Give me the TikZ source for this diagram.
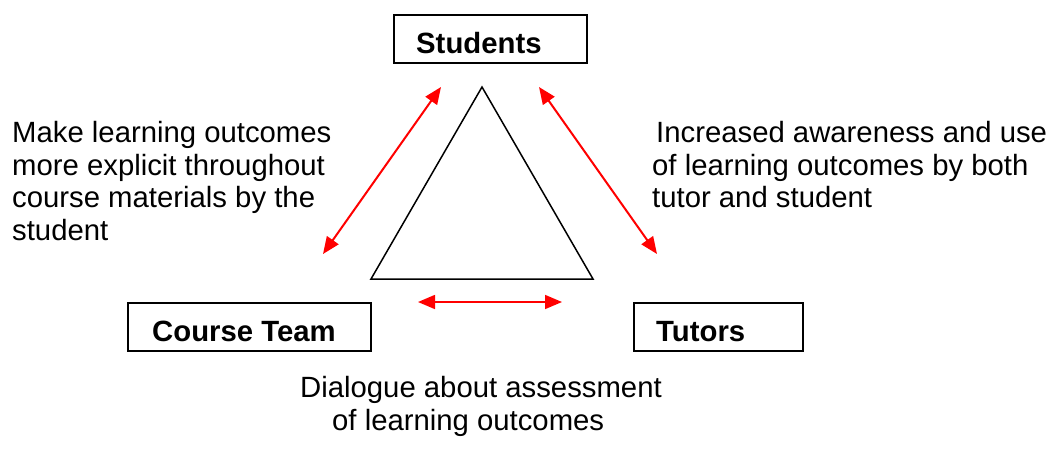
\documentclass[tikz,border=0pt]{standalone}
\usepackage{fontspec}
\setmainfont{Liberation Sans}
\usetikzlibrary{arrows.meta}
\begin{document}
\begin{tikzpicture}[x=1pt,y=-1pt,
  box/.style={draw=black,line width=1.6pt,fill=none},
  lbl/.style={font=\fontsize{29.3}{32.5}\selectfont\bfseries,anchor=base west,inner sep=0pt},
  txt/.style={font=\fontsize{29.3}{32.5}\selectfont,anchor=base west,inner sep=0pt,align=left},
  redarrow/.style={draw=red,line width=2pt,{Triangle[length=17pt,width=14pt]}-{Triangle[length=17pt,width=14pt]},fill=red},
  tri/.style={draw=black,line width=1.5pt}]
\useasboundingbox (0,0) rectangle (1050,464);
% boxes
\draw[box] (394,15) rectangle (587,63);
\node[lbl] (students) at (416,53.5) {Students};
\draw[box] (128,303) rectangle (371,351);
\node[lbl] (course) at (152,341.5) {Course Team};
\draw[box] (634,303) rectangle (803,351);
\node[lbl] (tutors) at (656,341.5) {Tutors};
% triangle
\coordinate (apex) at (482,87);
\coordinate (bl) at (371,279);
\coordinate (br) at (593,279);
\draw[tri] (apex) -- (bl) -- (br) -- cycle;
% arrows
\coordinate (la1) at (441,87);
\coordinate (la2) at (323,254);
\coordinate (ra1) at (539,87);
\coordinate (ra2) at (657,254);
\coordinate (ba1) at (418,302);
\coordinate (ba2) at (562,302);
\draw[redarrow] (la1) -- (la2);
\draw[redarrow] (ra1) -- (ra2);
\draw[redarrow,line width=1.6pt] (ba1) -- (ba2);
% texts
\node[txt] (lt1) at (12,142.5) {Make learning outcomes};
\node[txt] (lt2) at (12,175) {more explicit throughout};
\node[txt] (lt3) at (12,207.5) {course materials by the};
\node[txt] (lt4) at (12,240) {student};
\node[txt] (rt1) at (656,142.5) {Increased awareness and use};
\node[txt] (rt2) at (652,175) {of learning outcomes by both};
\node[txt] (rt3) at (652,207.5) {tutor and student};
\node[txt] (bt1) at (300,397.5) {Dialogue about assessment};
\node[txt] (bt2) at (332,430) {of learning outcomes};
\end{tikzpicture}
\end{document}
